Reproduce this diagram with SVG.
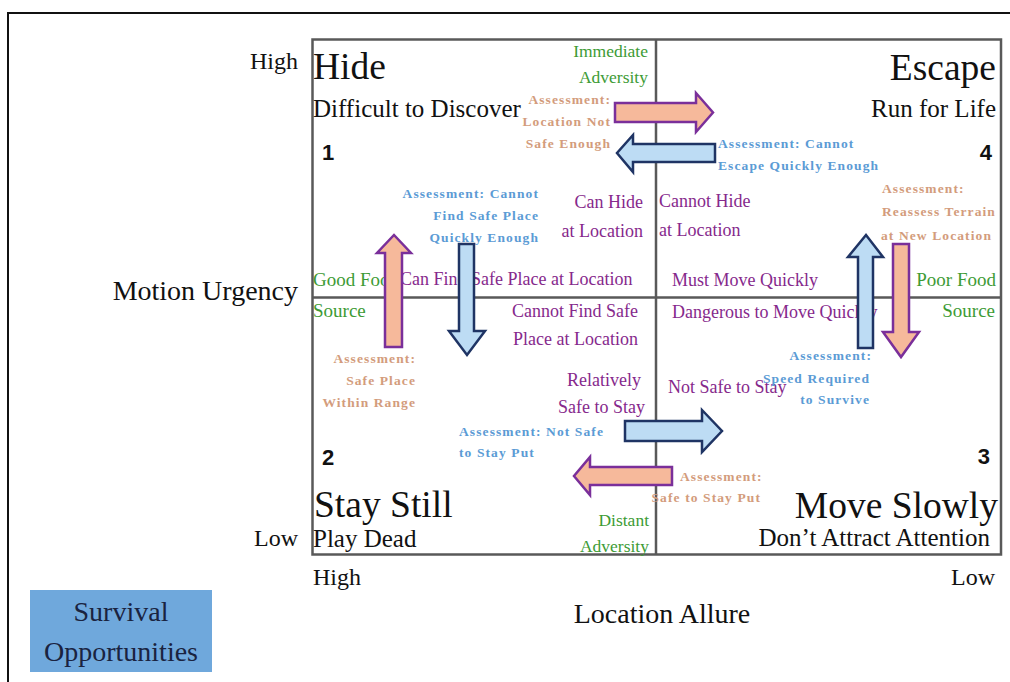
<svg xmlns="http://www.w3.org/2000/svg" width="1010" height="682" viewBox="0 0 1010 682">
<style>
text{font-family:"Liberation Serif","Times New Roman",serif;}
.big{font-size:37.5px;fill:#111;}
.sub{font-size:25px;fill:#111;}
.num{font-family:"Liberation Sans",Arial,sans-serif;font-size:22px;font-weight:bold;fill:#111;}
.axis{font-size:24px;fill:#111;}
.axisT{font-size:28px;fill:#111;}
.grn{font-size:17.5px;fill:#3d9b35;}
.grnB{font-size:19px;fill:#3d9b35;}
.pur{font-size:18px;fill:#86298c;}
.aO{font-size:13.5px;font-weight:bold;fill:#d39c7c;letter-spacing:1.1px;}
.aB{font-size:13.5px;font-weight:bold;fill:#5b9bd5;letter-spacing:1.1px;}
.r{text-anchor:end;}
.grid{fill:none;stroke:#595959;stroke-width:2.5;}
.arO{fill:#f6b99b;stroke:#7a2f9a;stroke-width:2.5;stroke-linejoin:miter;}
.arB{fill:#bddcf4;stroke:#1f3464;stroke-width:2.5;stroke-linejoin:miter;}
</style>
<rect x="0" y="0" width="1010" height="682" fill="#fff"/>
<rect x="8" y="13" width="1020" height="700" fill="none" stroke="#111" stroke-width="2"/>

<g id="grid">
<rect class="grid" x="312.5" y="39.5" width="688.5" height="515"/>
<line class="grid" x1="656" y1="39.5" x2="656" y2="554.5"/>
<line class="grid" x1="312.5" y1="297.5" x2="1001" y2="297.5"/>
</g>

<g id="axes">
<text class="axis r" x="298" y="69">High</text>
<text class="axisT r" x="298" y="300">Motion Urgency</text>
<text class="axis r" x="298" y="546">Low</text>
<text class="axis" x="313" y="585">High</text>
<text class="axis r" x="995" y="585">Low</text>
<text class="axisT" x="662" y="623" text-anchor="middle">Location Allure</text>
</g>

<g id="survival-opportunities">
<rect x="30" y="590" width="182" height="82" fill="#6fa8dc"/>
<text x="121" y="621" text-anchor="middle" style="font-size:28px;fill:#1a2340">Survival</text>
<text x="121" y="661" text-anchor="middle" style="font-size:28px;fill:#1a2340">Opportunities</text>
</g>

<g id="quadrant-1-hide">
<text class="big" x="313" y="79">Hide</text>
<text class="sub" x="313" y="117">Difficult to Discover</text>
<text class="num" x="322" y="160">1</text>
</g>
<g id="quadrant-4-escape">
<text class="big r" x="996" y="80">Escape</text>
<text class="sub r" x="996" y="117">Run for Life</text>
<text class="num r" x="992" y="160">4</text>
</g>
<g id="quadrant-2-stay-still">
<text class="num" x="322" y="465">2</text>
<text class="big" x="314" y="517">Stay Still</text>
<text class="sub" x="313" y="547">Play Dead</text>
</g>
<g id="quadrant-3-move-slowly">
<text class="num r" x="990" y="464">3</text>
<text class="big r" x="998" y="518">Move Slowly</text>
<text class="sub r" x="990" y="546">Don’t Attract Attention</text>
</g>

<g id="adversity-labels">
<text class="grn r" x="648" y="57">Immediate</text>
<text class="grn r" x="648" y="83">Adversity</text>
<text class="grn r" x="649" y="526">Distant</text>
<text class="grn r" x="649" y="552">Adversity</text>
</g>
<g id="food-labels">
<text class="grnB" x="313" y="286">Good Food</text>
<text class="grnB" x="313" y="317">Source</text>
<text class="grnB r" x="996" y="286">Poor Food</text>
<text class="grnB r" x="995" y="317">Source</text>
</g>

<g id="condition-labels">
<text class="pur r" x="643" y="208">Can Hide</text>
<text class="pur r" x="643" y="237">at Location</text>
<text class="pur" x="659" y="207">Cannot Hide</text>
<text class="pur" x="659" y="236">at Location</text>
<text class="pur" x="400" y="285">Can Find Safe Place at Location</text>
<text class="pur" x="672" y="286">Must Move Quickly</text>
<text class="pur r" x="638" y="317">Cannot Find Safe</text>
<text class="pur r" x="638" y="345">Place at Location</text>
<text class="pur" x="672" y="318">Dangerous to Move Quickly</text>
<text class="pur r" x="641" y="386">Relatively</text>
<text class="pur r" x="645" y="413">Safe to Stay</text>
<text class="pur" x="668" y="393">Not Safe to Stay</text>
</g>

<g id="assessment-labels">
<text class="aO r" x="611" y="104">Assessment:</text>
<text class="aO r" x="611" y="126">Location Not</text>
<text class="aO r" x="611" y="148">Safe Enough</text>
<text class="aB" x="718" y="148">Assessment: Cannot</text>
<text class="aB" x="718" y="170">Escape Quickly Enough</text>
<text class="aB r" x="539" y="198">Assessment: Cannot</text>
<text class="aB r" x="539" y="220">Find Safe Place</text>
<text class="aB r" x="539" y="242">Quickly Enough</text>
<text class="aO" x="882" y="193">Assessment:</text>
<text class="aO" x="882" y="216">Reassess Terrain</text>
<text class="aO" x="881" y="240">at New Location</text>
<text class="aO r" x="416" y="363">Assessment:</text>
<text class="aO r" x="416" y="385">Safe Place</text>
<text class="aO r" x="416" y="407">Within Range</text>
<text class="aB r" x="872" y="360">Assessment:</text>
<text class="aB r" x="870" y="383">Speed Required</text>
<text class="aB r" x="870" y="404">to Survive</text>
<text class="aB" x="459" y="436">Assessment: Not Safe</text>
<text class="aB" x="459" y="457">to Stay Put</text>
<text class="aO" x="680" y="481">Assessment:</text>
<text class="aO r" x="761" y="502">Safe to Stay Put</text>
</g>

<g id="connectors">
<path class="arO" d="M615,103 H696 V93 L713,112.5 L696,132 V122 H615 Z"/>
<path class="arB" d="M715,144 H633 V135 L617,153 L633,172 V162 H715 Z"/>
<path class="arO" d="M385,347 V253 H377 L394,235 L411,253 H402 V347 Z"/>
<path class="arB" d="M459,244 H474 V331 H485 L467,355 L449,331 H459 Z"/>
<path class="arB" d="M858,348 V257 H848 L866,235 L883,257 H873 V348 Z"/>
<path class="arO" d="M893,244 H909 V332 H919 L901,357 L883,332 H893 Z"/>
<path class="arB" d="M625,421 H702 V410 L722,431 L702,452 V441 H625 Z"/>
<path class="arO" d="M672,467 H590 V457 L574,476 L590,495 V485 H672 Z"/>
</g>
</svg>
